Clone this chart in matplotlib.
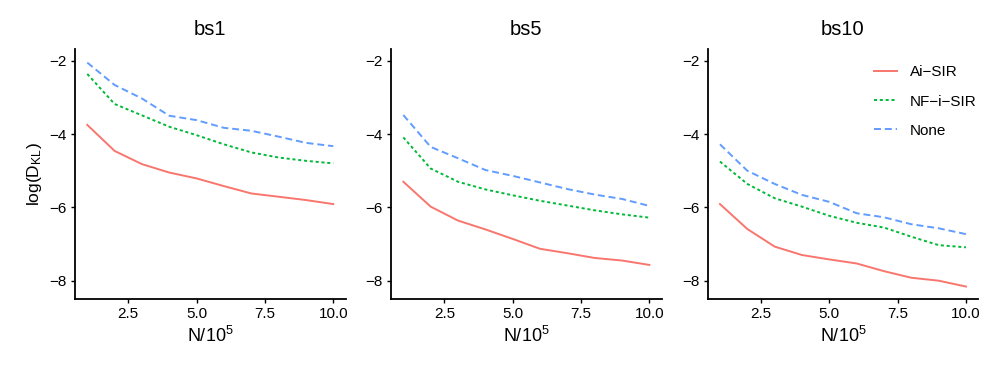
import matplotlib
matplotlib.use("Agg")
import matplotlib.pyplot as plt

plt.rcParams["font.family"] = ["Liberation Sans", "DejaVu Sans"]
plt.rcParams["mathtext.fontset"] = "custom"
plt.rcParams["mathtext.rm"] = "Liberation Sans"
plt.rcParams["mathtext.it"] = "Liberation Sans"
plt.rcParams["lines.scale_dashes"] = False

# data
n = [1, 2, 3, 4, 5, 6, 7, 8, 9, 10]
panels = ["bs1", "bs5", "bs10"]
methods = ["Ai\u2212SIR", "NF\u2212i\u2212SIR", "None"]

bs1_ai = [-3.75, -4.46, -4.82, -5.05, -5.21, -5.42, -5.62, -5.71, -5.80, -5.91]
bs1_nf = [-2.36, -3.18, -3.49, -3.80, -4.03, -4.28, -4.50, -4.64, -4.73, -4.80]
bs1_none = [-2.05, -2.66, -3.03, -3.50, -3.62, -3.83, -3.91, -4.07, -4.24, -4.33]

bs5_ai = [-5.30, -5.98, -6.36, -6.60, -6.86, -7.13, -7.25, -7.38, -7.45, -7.57]
bs5_nf = [-4.09, -4.94, -5.30, -5.51, -5.67, -5.82, -5.95, -6.08, -6.19, -6.28]
bs5_none = [-3.48, -4.35, -4.66, -4.98, -5.14, -5.32, -5.50, -5.65, -5.77, -5.96]

bs10_ai = [-5.91, -6.59, -7.07, -7.30, -7.42, -7.53, -7.74, -7.92, -8.00, -8.16]
bs10_nf = [-4.75, -5.36, -5.75, -5.98, -6.23, -6.42, -6.55, -6.80, -7.03, -7.09]
bs10_none = [-4.28, -5.00, -5.36, -5.66, -5.85, -6.16, -6.27, -6.46, -6.57, -6.73]

series = {
    "bs1": [bs1_ai, bs1_nf, bs1_none],
    "bs5": [bs5_ai, bs5_nf, bs5_none],
    "bs10": [bs10_ai, bs10_nf, bs10_none],
}

colors = ["#F8766D", "#00BA38", "#619CFF"]
styles = ["-", (0, (2.2, 2.0)), (0, (5.0, 2.8))]

fig = plt.figure(figsize=(9.97, 3.74), dpi=100)
lefts = [0.0752, 0.3922, 0.7098]
width, bottom, height = 0.2714, 0.2005, 0.6684

for i, name in enumerate(panels):
    ax = fig.add_axes([lefts[i], bottom, width, height])
    for vals, lab, c, ls in zip(series[name], methods, colors, styles):
        ax.plot(n, vals, color=c, linestyle=ls, linewidth=1.4, label=lab)
    ax.set_xlim(0.55, 10.45)
    ax.set_ylim(-8.5, -1.68)
    ax.set_xticks([2.5, 5.0, 7.5, 10.0])
    ax.set_xticklabels(["2.5", "5.0", "7.5", "10.0"])
    ax.set_yticks([-8, -6, -4, -2])
    for s in ["top", "right"]:
        ax.spines[s].set_visible(False)
    for s in ["left", "bottom"]:
        ax.spines[s].set_linewidth(1.3)
    ax.tick_params(direction="out", length=3, width=1, labelsize=11,
                   colors="black", pad=3)
    ax.set_title(name, fontsize=14.5, pad=10)
    ax.set_xlabel(r"N$/$10$^5$", fontsize=13, labelpad=3)
    if i == 0:
        ax.set_ylabel(r"log(D$_{\mathrm{KL}}$)", fontsize=12.5, labelpad=4)
    if i == 2:
        ax.legend(loc="upper right", frameon=False, fontsize=11,
                  handlelength=1.5, handletextpad=0.85, labelspacing=1.0,
                  bbox_to_anchor=(1.045, 0.99))

fig.savefig("out.png", dpi=100)
